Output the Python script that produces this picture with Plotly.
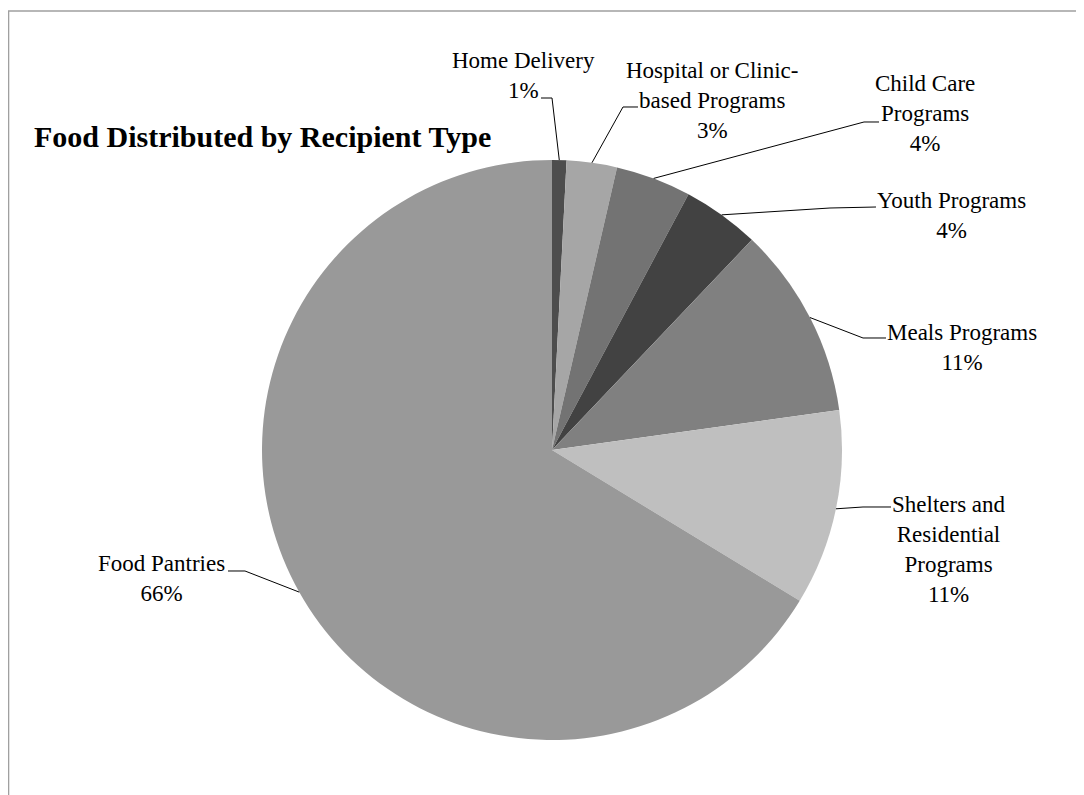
import math
import plotly.graph_objects as go

# page has an 8px body margin; figure sized to fit the window
OFF = 8
W, H = 1076, 787

categories = ["Home Delivery", "Hospital or Clinic-based Programs", "Child Care Programs",
              "Youth Programs", "Meals Programs", "Shelters and Residential Programs", "Food Pantries"]
values = [0.8, 2.8, 4.2, 4.3, 10.7, 10.9, 66.3]
label_texts = ["Home Delivery<br>1%", "Hospital or Clinic-<br>based Programs<br>3%",
               "Child Care<br>Programs<br>4%", "Youth Programs<br>4%", "Meals Programs<br>11%",
               "Shelters and<br>Residential<br>Programs<br>11%", "Food Pantries<br>66%"]
colors = ["#4d4d4d", "#a6a6a6", "#737373", "#424242", "#808080", "#bfbfbf", "#999999"]

# layout (screen pixels)
CX, CY, R = 552, 450, 290
label_pos = [(523, 76), (712, 100), (925, 113), (951, 215), (962, 347), (949, 549), (161, 578)]
elbows = [[(552, 98), (541, 98)], [(623, 107), (638, 107)], [(864, 122), (879, 122)],
          [(830, 208), (876, 207)], [(863, 338), (886, 338)], [(863, 507), (891, 507)],
          [(245, 571), (228, 571)]]

def px(x):
    return (x - OFF) / W

def py(y):
    return 1 - (y - OFF) / H

fig = go.Figure(go.Pie(
    labels=categories, values=values, sort=False, direction="clockwise", rotation=0,
    marker=dict(colors=colors, line=dict(width=0)), textinfo="none", hoverinfo="label+percent",
    showlegend=False,
    domain=dict(x=[px(CX - R), px(CX + R)], y=[py(CY + R), py(CY - R)]),
))

shapes = [dict(type="rect", xref="paper", yref="paper", x0=px(8.5), y0=py(H + 60), x1=px(W + 60), y1=py(11),
               line=dict(color="#a0a0a0", width=1.6), fillcolor="rgba(0,0,0,0)", layer="below")]
annotations = []
total = sum(values)
cum = 0
for i, v in enumerate(values):
    mid = (cum + v / 2) / total * 2 * math.pi
    cum += v
    ex, ey = CX + R * math.sin(mid), CY - R * math.cos(mid)
    pts = [(ex, ey)] + elbows[i]
    path = "M " + " L ".join(f"{px(x):.5f},{py(y):.5f}" for x, y in pts)
    shapes.append(dict(type="path", xref="paper", yref="paper", path=path,
                       line=dict(color="black", width=1)))
    lx, ly = label_pos[i]
    annotations.append(dict(x=px(lx), y=py(ly), xref="paper", yref="paper", text=label_texts[i],
                            showarrow=False, xanchor="center", yanchor="middle", align="center",
                            font=dict(family="Liberation Serif", size=23, color="black")))

annotations.append(dict(x=px(32), y=py(136), xref="paper", yref="paper",
                        text="<b>Food Distributed by Recipient Type</b>", showarrow=False,
                        xanchor="left", yanchor="middle",
                        font=dict(family="Liberation Serif", size=30, color="black")))

fig.update_layout(width=W, height=H, margin=dict(l=0, r=0, t=0, b=0),
                  paper_bgcolor="white", plot_bgcolor="white",
                  shapes=shapes, annotations=annotations)

fig.write_html("out.html")
